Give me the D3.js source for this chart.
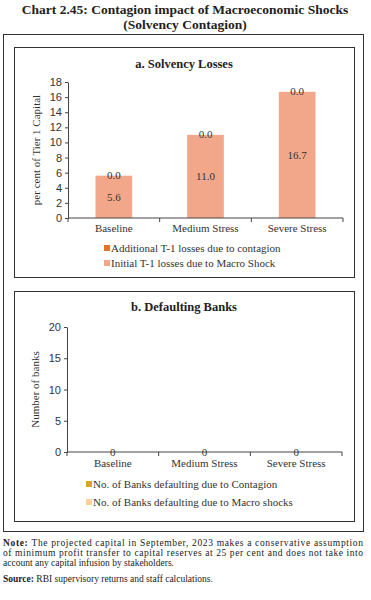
<!DOCTYPE html>
<html>
<head>
<meta charset="utf-8">
<script src="https://cdn.jsdelivr.net/npm/d3@7"></script>
<style>
body { margin: 0; background: #fff; }
svg { font-family: "Liberation Serif", "DejaVu Serif", serif; }
.axis text { font-size: 11px; fill: #333; }
.axis path, .axis line { stroke: #444; }
</style>
</head>
<body>
<script>
var width = 371,
    height = 600;

// panel a
var scenarios = ['Baseline', 'Medium Stress', 'Severe Stress'];
var initialLoss = [5.6, 11.0, 16.7];
var contagionLoss = [0.0, 0.0, 0.0];
var lossTicks = [0, 2, 4, 6, 8, 10, 12, 14, 16, 18];
var lossLegend = ['Additional T-1 losses due to contagion', 'Initial T-1 losses due to Macro Shock'];

// panel b
var macroBanks = [0, 0, 0];
var contagionBanks = [0, 0, 0];
var bankTicks = [0, 5, 10, 15, 20];
var bankLegend = ['No. of Banks defaulting due to Contagion', 'No. of Banks defaulting due to Macro shocks'];

var svg = d3.select('body')
    .append('svg')
    .attr('width', width)
    .attr('height', height);

// titles
svg.append('text')
    .attr('x', 185).attr('y', 14)
    .attr('text-anchor', 'middle')
    .style('font-weight', 'bold').style('font-size', '13.5px').style('fill', '#222')
    .text('Chart 2.45: Contagion impact of Macroeconomic Shocks');
svg.append('text')
    .attr('x', 185).attr('y', 29)
    .attr('text-anchor', 'middle')
    .style('font-weight', 'bold').style('font-size', '13.5px').style('fill', '#222')
    .text('(Solvency Contagion)');

// boxes
svg.append('rect')
    .attr('x', 3.5).attr('y', 34.5).attr('width', 360).attr('height', 497)
    .attr('fill', 'none').attr('stroke', '#333');
svg.append('rect')
    .attr('x', 14.5).attr('y', 47.5).attr('width', 340).attr('height', 230)
    .attr('fill', 'none').attr('stroke', '#333');
svg.append('rect')
    .attr('x', 14.5).attr('y', 291.5).attr('width', 340).attr('height', 230)
    .attr('fill', 'none').attr('stroke', '#333');

function panel(opts) {
    var g = svg.append('g');

    g.append('text')
        .attr('x', 184).attr('y', opts.titleY)
        .attr('text-anchor', 'middle')
        .style('font-weight', 'bold').style('font-size', '12.5px').style('fill', '#222')
        .text(opts.title);

    var x = d3.scaleBand()
        .domain(scenarios)
        .range([opts.left, opts.right])
        .paddingInner(0.6).paddingOuter(0.3);

    var band = d3.scaleBand()
        .domain(scenarios)
        .range([opts.left, opts.right]);

    var y = d3.scaleLinear()
        .domain([0, opts.max])
        .range([opts.bottom, opts.top]);

    // stacked bars
    var rows = scenarios.map((s, i) => ({ s: s, base: opts.base[i], add: opts.add[i] }));

    g.selectAll('.base')
        .data(rows).enter()
        .append('rect')
        .attr('x', d => x(d.s))
        .attr('width', x.bandwidth())
        .attr('y', d => y(d.base))
        .attr('height', d => y(0) - y(d.base))
        .attr('fill', opts.colors[1]);

    g.selectAll('.add')
        .data(rows).enter()
        .append('rect')
        .attr('x', d => x(d.s))
        .attr('width', x.bandwidth())
        .attr('y', d => y(d.base + d.add))
        .attr('height', d => y(d.base) - y(d.base + d.add))
        .attr('fill', opts.colors[0]);

    if (opts.showBase) {
        g.selectAll('.baselab')
            .data(rows).enter()
            .append('text')
            .attr('x', d => x(d.s) + x.bandwidth() / 2)
            .attr('y', d => (y(d.base) + y(0)) / 2 + 4)
            .attr('text-anchor', 'middle')
            .style('font-size', '11px').style('fill', '#333')
            .text(d => opts.fmt(d.base));
    }

    g.selectAll('.addlab')
        .data(rows).enter()
        .append('text')
        .attr('x', d => x(d.s) + x.bandwidth() / 2)
        .attr('y', d => (y(d.base) + y(d.base + d.add)) / 2 + 3.5)
        .attr('text-anchor', 'middle')
        .style('font-size', '11px').style('fill', '#333')
        .text(d => opts.fmt(d.add));

    // axes
    g.append('g')
        .attr('class', 'axis')
        .attr('transform', 'translate(' + opts.left + ',0)')
        .call(d3.axisLeft(y).tickValues(opts.ticks).tickSize(3).tickSizeOuter(0))
        .call(a => a.selectAll('text').attr('x', -6));

    var xa = g.append('g')
        .attr('class', 'axis')
        .attr('transform', 'translate(0,' + opts.bottom + ')');
    xa.append('line')
        .attr('x1', opts.left).attr('x2', opts.right)
        .attr('stroke', '#444');
    xa.selectAll('.tk')
        .data(scenarios.concat(['end'])).enter()
        .append('line')
        .attr('x1', (d, i) => opts.left + i * band.bandwidth())
        .attr('x2', (d, i) => opts.left + i * band.bandwidth())
        .attr('y1', 0).attr('y2', 4)
        .attr('stroke', '#444');
    xa.selectAll('.cat')
        .data(scenarios).enter()
        .append('text')
        .attr('x', d => band(d) + band.bandwidth() / 2)
        .attr('y', opts.catY)
        .attr('text-anchor', 'middle')
        .text(d => d);

    // y title
    g.append('text')
        .attr('transform', 'translate(' + opts.yTitleX + ',' + ((opts.top + opts.bottom) / 2) + ') rotate(-90)')
        .attr('text-anchor', 'middle')
        .style('font-size', opts.yTitleSize).style('fill', '#333')
        .text(opts.yTitle);

    // legend
    opts.legend.forEach(function(name, i) {
        var ly = opts.legendY + i * opts.legendGap;
        g.append('rect')
            .attr('x', opts.legendX).attr('y', ly - 7)
            .attr('width', 6).attr('height', 6)
            .attr('fill', opts.colors[i]);
        g.append('text')
            .attr('x', opts.legendX + 7).attr('y', ly)
            .style('font-size', '11px').style('fill', '#333')
            .text(name);
    });
}

panel({
    title: 'a.  Solvency Losses', titleY: 68,
    left: 68, right: 343, top: 82, bottom: 218, catY: 14,
    max: 18, ticks: lossTicks,
    base: initialLoss, add: contagionLoss, showBase: true,
    fmt: d3.format('.1f'),
    colors: ['#e2742f', '#f2a78a'],
    yTitle: 'per cent of Tier 1 Capital', yTitleX: 40, yTitleSize: '11px',
    legend: lossLegend, legendX: 104, legendY: 252, legendGap: 15
});

panel({
    title: 'b. Defaulting Banks', titleY: 311,
    left: 67, right: 342, top: 327, bottom: 452, catY: 15,
    max: 20, ticks: bankTicks,
    base: macroBanks, add: contagionBanks, showBase: false,
    fmt: d3.format('d'),
    colors: ['#d9a528', '#fbd38c'],
    yTitle: 'Number of banks', yTitleX: 39, yTitleSize: '11px',
    legend: bankLegend, legendX: 86, legendY: 488, legendGap: 18
});

// notes
var note = svg.append('g').style('font-size', '9.5px').style('fill', '#222');
var n1 = note.append('text').attr('x', 3).attr('y', 546).attr('textLength', 360).attr('lengthAdjust', 'spacing');
n1.append('tspan').style('font-weight', 'bold').text('Note: ');
n1.append('tspan').text('The projected capital in September, 2023 makes a conservative assumption');
note.append('text').attr('x', 3).attr('y', 556).attr('textLength', 360).attr('lengthAdjust', 'spacing')
    .text('of minimum profit transfer to capital reserves at 25 per cent and does not take into');
note.append('text').attr('x', 3).attr('y', 566)
    .text('account any capital infusion by stakeholders.');
var s1 = note.append('text').attr('x', 3).attr('y', 582);
s1.append('tspan').style('font-weight', 'bold').text('Source: ');
s1.append('tspan').text('RBI supervisory returns and staff calculations.');
</script>
</body>
</html>
